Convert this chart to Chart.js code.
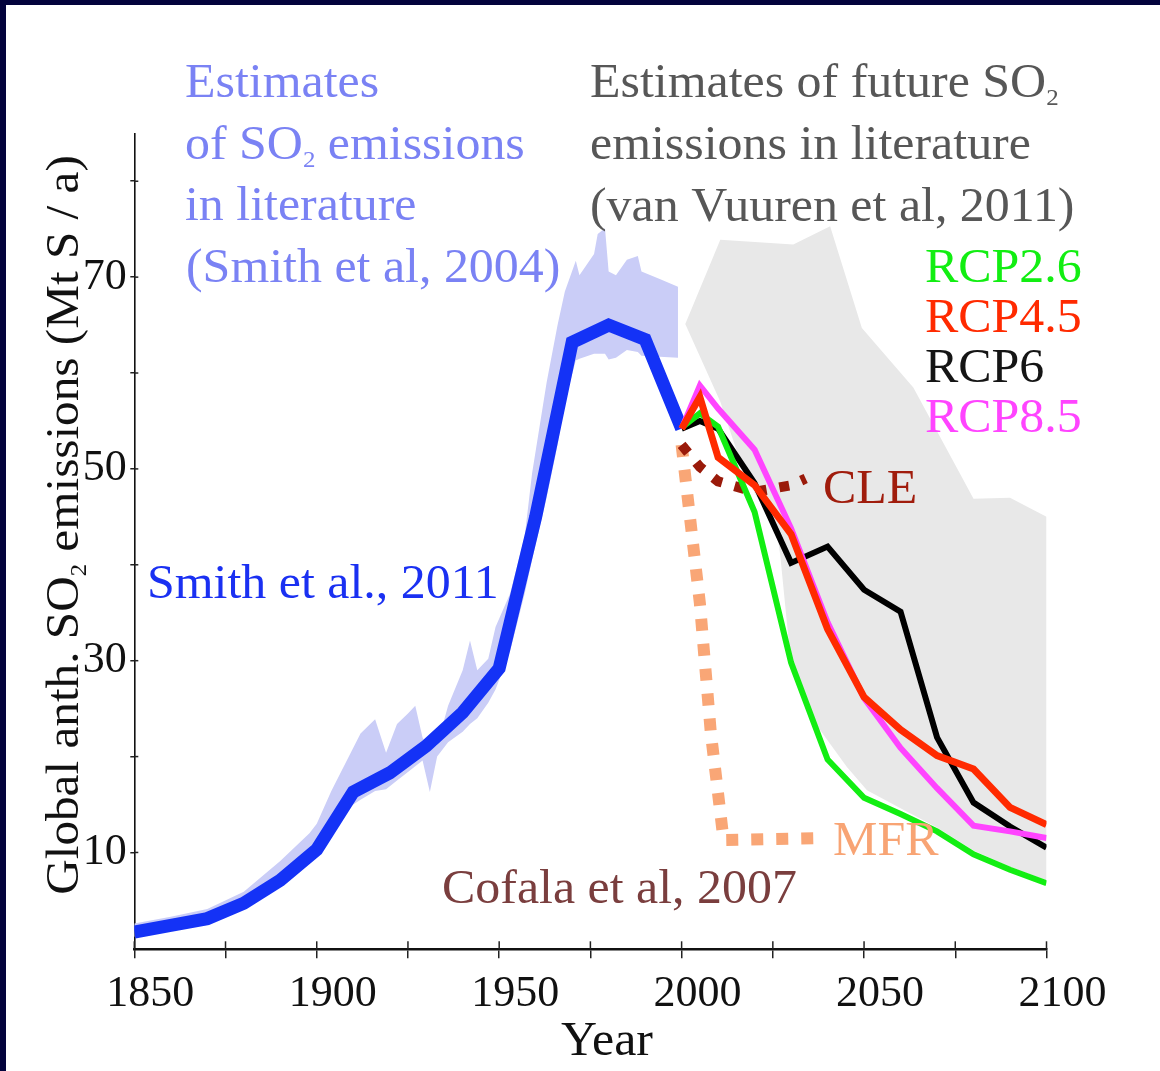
<!DOCTYPE html>
<html><head><meta charset="utf-8">
<style>html,body{margin:0;padding:0;background:#fff;}canvas{display:block;}</style>
<script src="https://cdn.jsdelivr.net/npm/chart.js@4.4.1/dist/chart.umd.min.js"></script>
</head><body>
<canvas id="c" width="1160" height="1071"></canvas>
<script>
// ---------------- data ----------------
const xTickValues = [1850,1875,1900,1925,1950,1975,2000,2025,2050,2075,2100];
const xTickLabels = [1850,1900,1950,2000,2050,2100];
const yTickValues = [10,20,30,40,50,60,70,80];
const yTickLabels = [10,30,50,70];

// Smith et al., 2011 (blue thick line)
const smithYears = [1850,1860,1870,1880,1890,1900,1910,1920,1930,1940,1950,1960,1970,1980,1990,2000];
const smith2011  = [1.7,2.4,3.1,4.7,7.1,10.3,16.3,18.3,21.1,24.6,29.2,45.0,63.2,65.0,63.5,54.2];

// Smith et al, 2004 literature range (light blue band)
const band2004Years = [1850,1860,1870,1880,1890,1898,1900,1904,1908,1912,1916,1919,1922,1925,1927,1929,1931,1933,1936,1940,1942,1944,1947,1949,1953,1957,1959,1963,1966,1968,1971,1972,1976,1977,1979,1980,1982,1985,1988,1989,1994,1999];
const band2004Upper = [2.6,3.3,4.1,5.9,9.1,12.0,13.0,16.4,19.4,22.4,23.9,20.4,23.4,24.5,25.3,22.0,20.6,21.2,25.3,29.0,32.1,29.0,30.2,33.5,37.0,43.0,49.5,59.0,65.0,68.5,71.7,70.2,72.4,74.5,75.1,70.6,70.2,71.8,72.2,70.6,69.8,69.0];
const band2004Lower = [1.2,1.9,2.6,4.2,6.6,9.0,9.8,12.3,14.5,15.5,16.4,16.6,17.5,18.4,19.0,19.6,16.3,20.0,21.5,22.6,23.4,24.0,25.6,27.0,31.0,37.0,40.5,47.0,52.5,57.0,61.3,61.5,62.0,62.0,62.0,61.4,61.6,62.4,62.2,61.8,61.7,61.6];

// van Vuuren et al, 2011 literature range (grey band)
const vvUpperYears = [2001,2010.6,2030.6,2040.7,2049.4,2063.5,2076.3,2080,2090,2100];
const vvUpper      = [65.1,73.9,73.4,75.3,64.7,58.5,49.5,46.9,47.0,45.0];
const vvLowerYears = [2001,2010.6,2015,2020,2026,2027,2029.7,2036,2045.3,2050.8,2060,2070,2080,2090,2100];
const vvLower      = [65.1,57.0,52.0,47.5,43.6,41.1,30.7,23.8,18.9,16.5,14.6,12.6,10.2,8.5,7.1];

// RCP scenarios
const rcpYears = [2000,2005,2010,2020,2030,2040,2050,2060,2070,2080,2090,2100];
const rcp26 = [54.3,55.8,54.4,45.5,29.8,19.7,15.7,14.0,12.2,9.8,8.2,6.8];
const rcp45 = [54.2,57.5,51.2,48.3,43.2,33.3,26.2,22.8,20.1,18.7,14.7,12.9];
const rcp60 = [54.2,55.0,54.2,48.5,40.2,41.9,37.4,35.1,22.0,15.2,12.7,10.5];
const rcp85 = [54.2,58.7,56.3,52.0,43.8,34.0,26.1,20.9,16.7,12.8,12.2,11.5];

// Cofala et al, 2007
const cleYears = [2000,2005,2010,2020,2030,2034];
const cle      = [52.5,50.2,48.7,47.6,48.3,49.0];
const mfrYears = [2000,2005,2008,2011.5,2039];
const mfr      = [52.5,36.0,22.5,11.3,11.5];

// ---------------- helpers ----------------
const FONT = '"Liberation Serif", "Times New Roman", serif';
const zip = (xs, ys) => xs.map((x, i) => ({x: x, y: ys[i]}));
const shape = (ux, uy, lx, ly) => zip(ux, uy).concat(zip(lx, ly).reverse());

function segWidth(ctx, segs, size) {
  let w = 0;
  for (const [t, sub] of segs) {
    ctx.font = (sub ? size * 0.5 : size) + 'px ' + FONT;
    w += ctx.measureText(t).width;
  }
  return w;
}
function drawRich(ctx, segs, x, y, size, color, align, sx) {
  ctx.save();
  ctx.fillStyle = color;
  ctx.textBaseline = 'alphabetic';
  ctx.textAlign = 'left';
  ctx.translate(x, y);
  ctx.scale(sx || 1, 1);
  const w = segWidth(ctx, segs, size);
  let cx = align === 'center' ? -w / 2 : 0;
  for (const [t, sub] of segs) {
    ctx.font = (sub ? size * 0.5 : size) + 'px ' + FONT;
    ctx.fillText(t, cx, sub ? size * 0.17 : 0);
    cx += ctx.measureText(t).width;
  }
  ctx.restore();
}

const annotations = [
  {segs: [['Estimates']], x: 185, y: 97, color: '#7a82f4'},
  {segs: [['of SO'], ['2', 1], [' emissions']], x: 185, y: 158.5, color: '#7a82f4'},
  {segs: [['in literature']], x: 185, y: 220, color: '#7a82f4'},
  {segs: [['(Smith et al, 2004)']], x: 186, y: 281.7, color: '#7a82f4'},
  {segs: [['Estimates of future SO'], ['2', 1]], x: 590, y: 97, color: '#575757'},
  {segs: [['emissions in literature']], x: 590, y: 158.5, color: '#575757'},
  {segs: [['(van Vuuren et al, 2011)']], x: 590, y: 221, color: '#575757'},
  {segs: [['RCP2.6']], x: 925, y: 282, color: '#12ee12'},
  {segs: [['RCP4.5']], x: 925, y: 332, color: '#ff2a00'},
  {segs: [['RCP6']], x: 925, y: 381.7, color: '#151515'},
  {segs: [['RCP8.5']], x: 925, y: 431.7, color: '#ff44ff'},
  {segs: [['CLE']], x: 823, y: 503, color: '#a01c0c'},
  {segs: [['MFR']], x: 833, y: 855, color: '#f8a474'},
  {segs: [['Cofala et al, 2007']], x: 442, y: 903, color: '#7a3e3e'},
  {segs: [['Smith et al., 2011']], x: 147, y: 598, color: '#1a30f2'},
  {segs: [['Year']], x: 607, y: 1055, color: '#111', align: 'center'}
];

const bgPlugin = {
  id: 'bg',
  beforeDraw(chart) {
    const c = chart.ctx;
    c.save();
    c.fillStyle = '#03033c';
    c.fillRect(0, 0, chart.width, chart.height);
    c.fillStyle = '#ffffff';
    c.fillRect(6, 5, chart.width - 6, chart.height - 5);
    c.restore();
  }
};

const textPlugin = {
  id: 'texts',
  afterDraw(chart) {
    const c = chart.ctx;
    const xs = chart.scales.x, ys = chart.scales.y;
    // inner halves of tick marks
    c.save();
    c.strokeStyle = '#222';
    c.lineWidth = 1.5;
    for (const v of xTickValues) {
      const px = xs.getPixelForValue(v);
      c.beginPath(); c.moveTo(px, xs.top); c.lineTo(px, xs.top - 8); c.stroke();
    }
    for (const v of yTickValues) {
      const py = ys.getPixelForValue(v);
      c.beginPath(); c.moveTo(ys.right, py); c.lineTo(ys.right + 4, py); c.stroke();
    }
    c.restore();
    for (const a of annotations) {
      drawRich(c, a.segs, a.x, a.y, 48, a.color, a.align, 1.04);
    }
    // y axis title
    c.save();
    c.translate(78, 525);
    c.rotate(-Math.PI / 2);
    drawRich(c, [['Global anth. SO'], ['2', 1], [' emissions (Mt S / a)']], 0, 0, 46, '#111', 'center', 1.07);
    c.restore();
  }
};

const tickFont = {family: 'Liberation Serif', size: 44};

new Chart(document.getElementById('c'), {
  type: 'line',
  data: {
    datasets: [
      {label: 'RCP4.5', data: zip(rcpYears, rcp45), borderColor: '#ff2a00', borderWidth: 7, order: 1},
      {label: 'RCP8.5', data: zip(rcpYears, rcp85), borderColor: '#ff44ff', borderWidth: 6, order: 2},
      {label: 'RCP2.6', data: zip(rcpYears, rcp26), borderColor: '#12ee12', borderWidth: 6, order: 3},
      {label: 'RCP6', data: zip(rcpYears, rcp60), borderColor: '#000000', borderWidth: 6, order: 4},
      {label: 'Smith et al., 2011', data: zip(smithYears, smith2011), borderColor: '#1432f6', borderWidth: 13, order: 5},
      {label: 'CLE', data: zip(cleYears, cle), borderColor: '#9a1a0a', borderWidth: 10, borderDash: [10, 13], order: 6},
      {label: 'MFR', data: zip(mfrYears, mfr), borderColor: '#f9a676', borderWidth: 12, borderDash: [12, 13], order: 7},
      {label: 'Smith et al, 2004', data: shape(band2004Years, band2004Upper, band2004Years, band2004Lower),
        borderWidth: 0, borderColor: 'rgba(0,0,0,0)', backgroundColor: '#cacdf7', fill: 'shape', order: 8},
      {label: 'van Vuuren et al, 2011', data: shape(vvUpperYears, vvUpper, vvLowerYears, vvLower),
        borderWidth: 0, borderColor: 'rgba(0,0,0,0)', backgroundColor: '#e8e8e8', fill: 'shape', order: 9}
    ]
  },
  options: {
    responsive: false,
    animation: false,
    events: [],
    layout: {padding: {left: 0, top: 133.3, right: 113.5, bottom: 0}},
    plugins: {legend: {display: false}, tooltip: {enabled: false}},
    elements: {point: {radius: 0}, line: {tension: 0, borderJoinStyle: 'miter', borderCapStyle: 'butt', fill: false}},
    scales: {
      x: {
        type: 'linear', min: 1850, max: 2100,
        afterBuildTicks: s => { s.ticks = xTickValues.map(v => ({value: v})); },
        afterFit: s => { s.height = 121.7; },
        grid: {display: true, drawOnChartArea: false, drawTicks: true, tickLength: 9, color: '#222', lineWidth: 1.5},
        border: {display: true, color: '#111', width: 2.5},
        ticks: {font: tickFont, color: '#111', padding: 10, labelOffset: 16, maxRotation: 0, autoSkip: false,
          callback: v => xTickLabels.includes(v) ? String(v) : ''}
      },
      y: {
        type: 'linear', min: -0.1, max: 85,
        afterBuildTicks: s => { s.ticks = yTickValues.map(v => ({value: v})); },
        afterFit: s => { s.width = 134.3; },
        grid: {display: true, drawOnChartArea: false, drawTicks: true, tickLength: 4, color: '#222', lineWidth: 1.5},
        border: {display: true, color: '#111', width: 1.6},
        ticks: {font: tickFont, color: '#111', padding: 3.6, autoSkip: false,
          callback: v => yTickLabels.includes(v) ? String(v) : ''}
      }
    }
  },
  plugins: [bgPlugin, textPlugin]
});
</script>
</body></html>
